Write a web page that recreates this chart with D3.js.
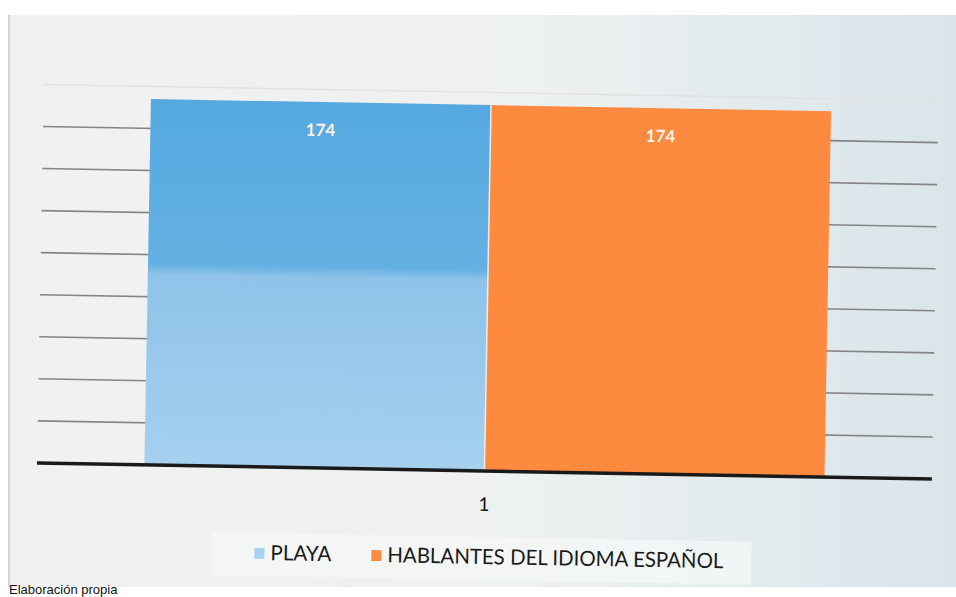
<!DOCTYPE html>
<html>
<head>
<meta charset="utf-8">
<script src="https://cdn.jsdelivr.net/npm/d3@7"></script>
<style>
  body { margin: 0; background: #fff; overflow: hidden; }
  svg { display: block; }
</style>
</head>
<body>
<svg></svg>
<script>
// data
var categories = ["1"];
var seriesNames = ["PLAYA", "HABLANTES DEL IDIOMA ESPAÑOL"];
var seriesValues = [174, 174];
var gridTicks = [20, 40, 60, 80, 100, 120, 140, 160, 180];
var colors = ["#5caee2", "#fd8a3f"];

var w = 956;
var h = 597;

var svg = d3.select("svg")
    .attr("width", w)
    .attr("height", h);

var defs = svg.append("defs");

// paper / chart background
var bg = defs.append("linearGradient").attr("id", "bg").attr("x1", 0).attr("x2", 1);
bg.append("stop").attr("offset", "0%").attr("stop-color", "#f1f1f0");
bg.append("stop").attr("offset", "55%").attr("stop-color", "#eef1f1");
bg.append("stop").attr("offset", "100%").attr("stop-color", "#d9e5ea");

// scanned blue bar fades towards the bottom
var blueGrad = defs.append("linearGradient").attr("id", "blueGrad").attr("x1", 0).attr("x2", 0).attr("y1", 0).attr("y2", 1);
blueGrad.append("stop").attr("offset", "0%").attr("stop-color", "#55a9e0");
blueGrad.append("stop").attr("offset", "45%").attr("stop-color", "#64b0e3");
blueGrad.append("stop").attr("offset", "48%").attr("stop-color", "#8fc3e9");
blueGrad.append("stop").attr("offset", "100%").attr("stop-color", "#a6d0ee");

svg.append("rect")
    .attr("x", 8).attr("y", 15)
    .attr("width", w - 8).attr("height", 572)
    .attr("fill", "url(#bg)");

svg.append("line")
    .attr("x1", 9).attr("x2", 9).attr("y1", 15).attr("y2", 587)
    .attr("stroke", "#c9c9c9").attr("stroke-width", 1.5);

// the scan is tilted a little
var g = svg.append("g").attr("transform", "rotate(1.03, 488, 300)");

var left = 40, right = 935, base = 471;

var x0 = d3.scaleBand()
    .domain(categories)
    .range([left, right])
    .paddingInner(0.24)
    .paddingOuter(0.12);

var x1 = d3.scaleBand()
    .domain(seriesNames)
    .range([0, x0.bandwidth()])
    .padding(0);

var y = d3.scaleLinear()
    .domain([0, 180])
    .range([base, base - 180 * 2.103]);

// gridlines
g.selectAll("line.grid")
    .data(gridTicks)
    .enter()
    .append("line")
    .attr("class", "grid")
    .attr("x1", left)
    .attr("x2", right)
    .attr("y1", function (d) { return y(d); })
    .attr("y2", function (d) { return y(d); })
    .attr("stroke", function (d) { return d === 180 ? "#e2e2e2" : "#858585"; })
    .attr("stroke-width", 1.6);

var bars = seriesNames.map(function (s, i) {
    return { name: s, value: seriesValues[i], cat: categories[0], i: i };
});

g.selectAll("rect.bar")
    .data(bars)
    .enter()
    .append("rect")
    .attr("class", "bar")
    .attr("x", function (d) { return x0(d.cat) + x1(d.name); })
    .attr("y", function (d) { return y(d.value); })
    .attr("width", x1.bandwidth())
    .attr("height", function (d) { return y(0) - y(d.value); })
    .attr("fill", function (d) { return d.i === 0 ? "url(#blueGrad)" : colors[d.i]; });

// thin light seam between the two bars
g.append("line")
    .attr("x1", x0(categories[0]) + x1(seriesNames[1]))
    .attr("x2", x0(categories[0]) + x1(seriesNames[1]))
    .attr("y1", y(174)).attr("y2", y(0))
    .attr("stroke", "#e8eef2").attr("stroke-width", 1.5);

// value labels
g.selectAll("text.val")
    .data(bars)
    .enter()
    .append("text")
    .attr("class", "val")
    .attr("x", function (d) { return x0(d.cat) + x1(d.name) + x1.bandwidth() / 2; })
    .attr("y", function (d) { return y(d.value) + 34; })
    .attr("text-anchor", "middle")
    .attr("font-family", "Lato, 'Open Sans', sans-serif")
    .attr("font-weight", "bold")
    .attr("font-size", "17px")
    .attr("fill", "#fbf3ea")
    .text(function (d) { return d.value; });

// x axis
g.append("line")
    .attr("x1", left).attr("x2", right)
    .attr("y1", y(0)).attr("y2", y(0))
    .attr("stroke", "#1a1a1a").attr("stroke-width", 3.5);

g.selectAll("text.cat")
    .data(categories)
    .enter()
    .append("text")
    .attr("class", "cat")
    .attr("x", function (d) { return x0(d) + x0.bandwidth() / 2; })
    .attr("y", y(0) + 40)
    .attr("text-anchor", "middle")
    .attr("font-family", "Lato, 'Open Sans', sans-serif")
    .attr("font-size", "19px")
    .attr("fill", "#111")
    .text(function (d) { return d; });

// legend
g.append("rect")
    .attr("x", 216).attr("y", 537)
    .attr("width", 540).attr("height", 43)
    .attr("fill", "#f5f7f8").attr("opacity", 0.8);

var legendX = [259, 376];
var legendW = [61, 336];
var leg = g.selectAll("g.leg")
    .data(seriesNames)
    .enter()
    .append("g")
    .attr("class", "leg")
    .attr("transform", function (d, i) { return "translate(" + legendX[i] + ",551)"; });

leg.append("rect")
    .attr("y", 1)
    .attr("width", 10).attr("height", 11)
    .attr("fill", function (d, i) { return i === 0 ? "#a9d2ee" : colors[i]; });

leg.append("text")
    .attr("x", 16)
    .attr("y", 13)
    .attr("font-family", "Lato, 'Open Sans', sans-serif")
    .attr("font-size", "21px")
    .attr("fill", "#1a1a1a")
    .attr("textLength", function (d, i) { return legendW[i]; })
    .attr("lengthAdjust", "spacingAndGlyphs")
    .text(function (d) { return d; });

// source note at the bottom edge
svg.append("text")
    .attr("x", 9)
    .attr("y", 594)
    .attr("font-family", "'Liberation Sans', Arial, sans-serif")
    .attr("font-size", "13px")
    .attr("fill", "#111")
    .text("Elaboración propia");
</script>
</body>
</html>
